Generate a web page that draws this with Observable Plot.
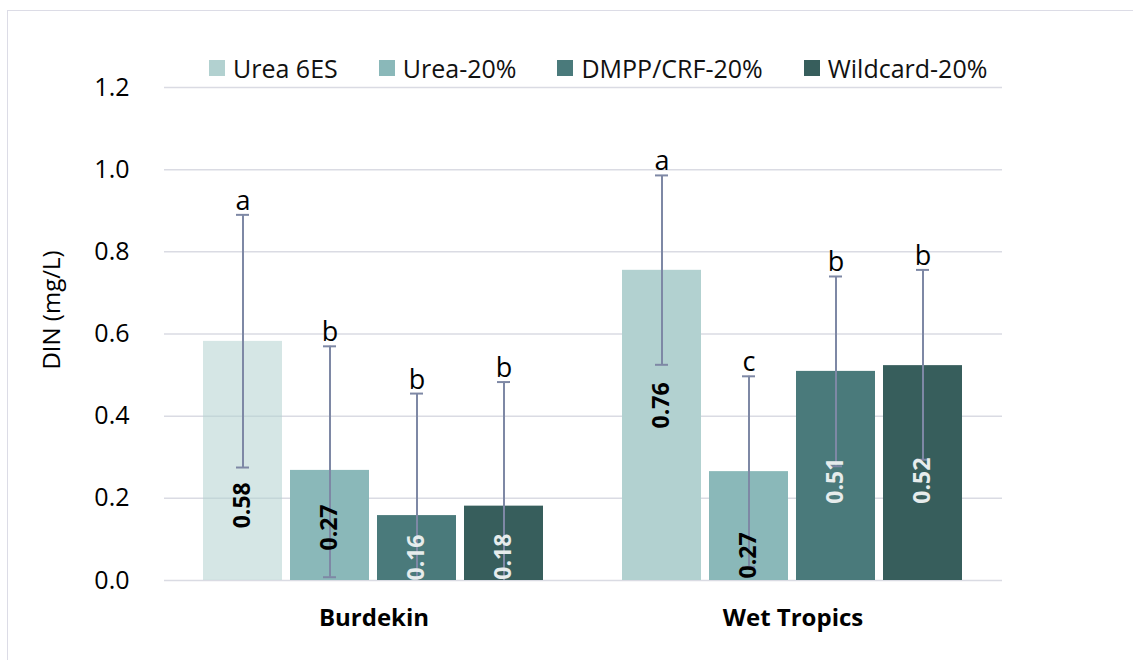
<!DOCTYPE html>
<html>
<head>
<meta charset="utf-8">
<script src="https://cdn.jsdelivr.net/npm/d3@7"></script>
<script src="https://cdn.jsdelivr.net/npm/@observablehq/plot@0.6"></script>
<style>
  html, body { margin: 0; padding: 0; background: #ffffff; }
  #wrap { position: relative; width: 1133px; height: 660px; overflow: hidden; font-family: "Open Sans", Lato, sans-serif; }
  #frame { position: absolute; left: 7px; top: 10px; width: 1200px; height: 700px; border-left: 1.5px solid #dcdce6; border-top: 1.5px solid #dcdce6; }
  #legend { position: absolute; left: 209px; top: 51px; display: flex; align-items: center; gap: 41px; font-size: 25px; color: #111; }
  #legend .item { display: flex; align-items: center; gap: 8px; }
  #legend .sw { width: 16px; height: 16px; display: inline-block; }
  #chart { position: absolute; left: 0; top: 0; }
  #ytitle { position: absolute; left: 50px; top: 310px; transform: translate(-50%, -50%) rotate(-90deg); font-size: 24px; white-space: nowrap; color: #000; }
</style>
</head>
<body>
<div id="wrap">
  <div id="frame"></div>
  <div id="chart"></div>
  <div id="legend"></div>
  <div id="ytitle">DIN (mg/L)</div>
</div>
<script>
// ---- data ----
const regions = ["Burdekin", "Wet Tropics"];
const treatments = ["Urea 6ES", "Urea-20%", "DMPP/CRF-20%", "Wildcard-20%"];
const burdekinMean = [0.582, 0.268, 0.158, 0.181];
const wetTropicsMean = [0.755, 0.265, 0.509, 0.523];
const burdekinLabel = [0.58, 0.27, 0.16, 0.18];
const wetTropicsLabel = [0.76, 0.27, 0.51, 0.52];
const burdekinLow = [0.275, 0.008, -0.14, -0.12];
const burdekinHigh = [0.890, 0.570, 0.455, 0.483];
const wetTropicsLow = [0.525, 0.033, 0.278, 0.294];
const wetTropicsHigh = [0.986, 0.497, 0.740, 0.756];
const burdekinLetters = ["a", "b", "b", "b"];
const wetTropicsLetters = ["a", "c", "b", "b"];
const burdekinLabelAt = [0.183, 0.129, 0.056, 0.058];
const wetTropicsLabelAt = [0.426, 0.061, 0.243, 0.243];
const yTicks = [0, 0.2, 0.4, 0.6, 0.8, 1.0, 1.2];

// ---- styles ----
const treatmentColors = ["#b2d1d0", "#8ab8b9", "#4a7a7b", "#375e5c"];
const labelColors = ["#000000", "#000000", "#e6ecec", "#e6ecec"];
const errColor = "#7e88a5";
const fontFamily = "'Open Sans', Lato, sans-serif";

const rows = [];
treatments.forEach((t, i) => {
  rows.push({region: regions[0], treatment: t, mean: burdekinMean[i], label: burdekinLabel[i],
    low: burdekinLow[i], high: burdekinHigh[i], letter: burdekinLetters[i], labelAt: burdekinLabelAt[i]});
});
treatments.forEach((t, i) => {
  rows.push({region: regions[1], treatment: t, mean: wetTropicsMean[i], label: wetTropicsLabel[i],
    low: wetTropicsLow[i], high: wetTropicsHigh[i], letter: wetTropicsLetters[i], labelAt: wetTropicsLabelAt[i]});
});

const colorOf = t => treatmentColors[treatments.indexOf(t)];
const labelColorOf = t => labelColors[treatments.indexOf(t)];
const fmt2 = d3.format(".2f");

const chart = Plot.plot({
  width: 1133,
  height: 660,
  marginLeft: 163,
  marginRight: 131,
  marginTop: 87,
  marginBottom: 80,
  style: {fontFamily, background: "transparent", color: "#000"},
  fx: {domain: regions, padding: 0, label: null},
  x: {domain: treatments, paddingInner: 0.09, paddingOuter: 0.44, axis: null},
  y: {domain: [0, 1.2], axis: null},
  marks: [
    Plot.ruleY(yTicks, {stroke: "#dadbe3", strokeWidth: 1.5}),
    Plot.barY(rows, {fx: "region", x: "treatment", y: "mean",
      fill: d => colorOf(d.treatment),
      fillOpacity: d => (d.region === "Burdekin" && d.treatment === "Urea 6ES") ? 0.55 : 1}),
    Plot.ruleX(rows, {fx: "region", x: "treatment", y1: d => Math.max(0, d.low), y2: "high",
      stroke: errColor, strokeWidth: 2}),
    Plot.tickY(rows, {fx: "region", x: "treatment", y: "high", insetLeft: 33, insetRight: 33,
      stroke: errColor, strokeWidth: 2}),
    Plot.tickY(rows.filter(d => d.low >= 0), {fx: "region", x: "treatment", y: "low", insetLeft: 33, insetRight: 33,
      stroke: errColor, strokeWidth: 2}),
    Plot.text(rows, {fx: "region", x: "treatment", y: "high", text: "letter", lineAnchor: "bottom", dy: -5,
      fontSize: 27, fill: "#000"}),
    Plot.text(rows, {fx: "region", x: "treatment", y: "labelAt", text: d => fmt2(d.label), rotate: -90,
      fontSize: 23, fontWeight: 700, fill: d => labelColorOf(d.treatment)}),
    Plot.axisY(yTicks, {anchor: "left", tickFormat: d3.format(".1f"), tickSize: 0, tickPadding: 35, fontSize: 25,
      label: null}),
    Plot.axisFx({anchor: "bottom", tickSize: 0, tickPadding: 28, fontSize: 24, fontWeight: 700, label: null})
  ]
});
document.getElementById("chart").appendChild(chart);

const legend = document.getElementById("legend");
treatments.forEach((t, i) => {
  const item = document.createElement("div");
  item.className = "item";
  const sw = document.createElement("span");
  sw.className = "sw";
  sw.style.background = treatmentColors[i];
  const tx = document.createElement("span");
  tx.textContent = t;
  item.appendChild(sw);
  item.appendChild(tx);
  legend.appendChild(item);
});
</script>
</body>
</html>
